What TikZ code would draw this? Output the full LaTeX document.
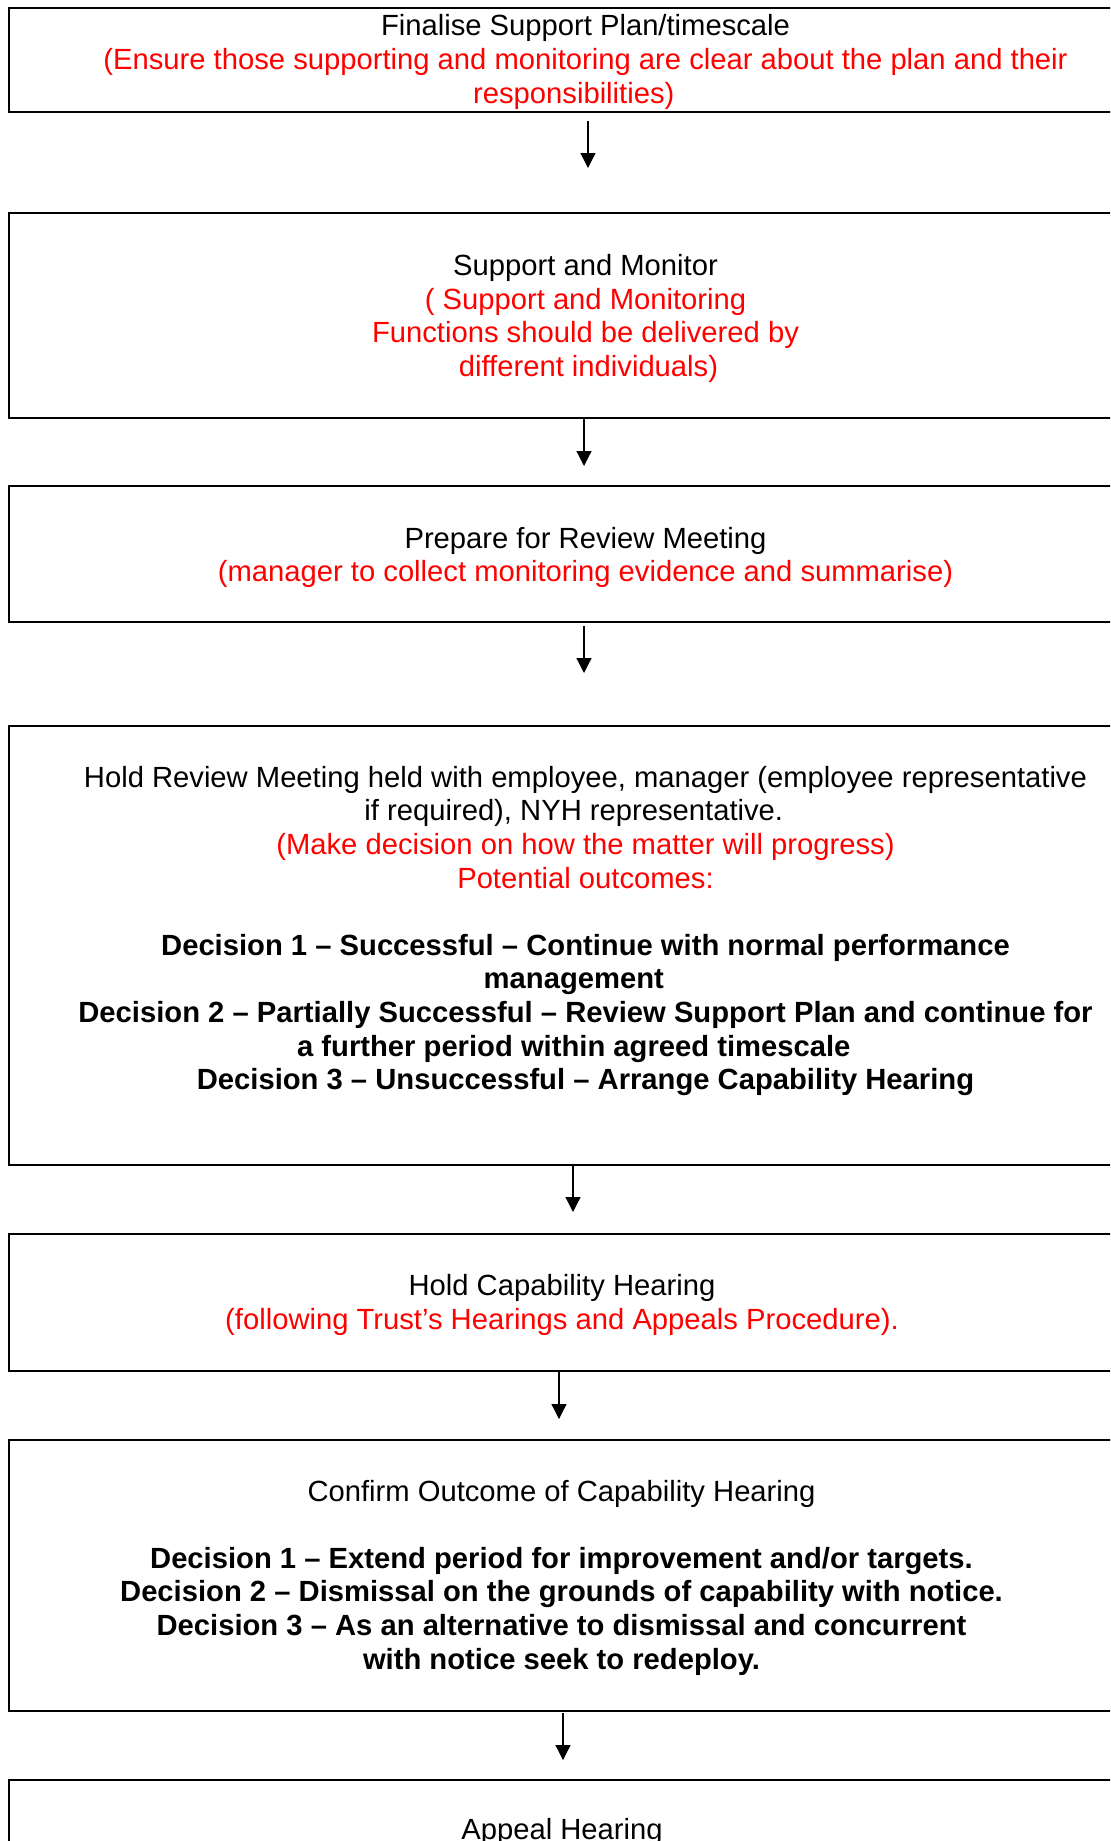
\documentclass[tikz,border=0pt]{standalone}
\usepackage{fontspec}
\setmainfont{Liberation Sans}
\usetikzlibrary{arrows.meta}
\definecolor{txtred}{RGB}{255,0,0}
\newcommand{\rd}[1]{\textcolor{txtred}{#1}}
\newcommand{\lsh}{\hspace*{11.7pt}\mbox{}}
\begin{document}
\begin{tikzpicture}[x=0.5pt,y=-0.5pt,
  box/.style={draw=black, line width=1pt, anchor=north west, inner sep=0pt, minimum width=580pt},
  txt/.style={align=center, inner sep=0pt, font=\fontsize{14.6}{16.8}\selectfont},
  arr/.style={line width=0.6pt, -{Triangle[length=7.5pt,width=7.5pt]}}]
\clip (0,0) rectangle (1110,1841);
% boxes
\node[box, minimum height=51.7pt] (b1) at (7.5,7.3) {};
\node[box, minimum height=102.5pt] (b2) at (7.5,212) {};
\node[box, minimum height=68pt] (b3) at (7.5,485) {};
\node[box, minimum height=219.7pt] (b4) at (7.5,725) {};
\node[box, minimum height=68.6pt] (b5) at (7.5,1232.7) {};
\node[box, minimum height=135.6pt] (b6) at (7.5,1438.7) {};
\node[box, minimum height=60pt] (b7) at (7.5,1779) {};
% texts
\node[txt] (t1) at (585.5,61.9) {Finalise Support Plan/timescale\\
\rd{(Ensure those supporting and monitoring are clear about the plan and their}\\
\rd{responsibilities)}\lsh};
\node[txt] (t2) at (585.5,318.5) {Support and Monitor\\
\rd{( Support and Monitoring}\\
\rd{Functions should be delivered by}\\
\rd{different individuals)}\hspace*{-3pt}};
\node[txt] (t3) at (585.5,557.5) {Prepare for Review Meeting\\
\rd{(manager to collect monitoring evidence and summarise)}};
\node[txt] (t4) at (585.5,931) {Hold Review Meeting held with employee, manager (employee representative\\
if required), NYH representative.\lsh\\
\rd{(Make decision on how the matter will progress)}\\
\rd{Potential outcomes:}\\[16.8pt]
\textbf{Decision 1 – Successful – Continue with normal performance}\\
\textbf{management}\lsh\\
\textbf{Decision 2 – Partially Successful – Review Support Plan and continue for}\\
\textbf{a further period within agreed timescale}\lsh\\
\textbf{Decision 3 – Unsuccessful – Arrange Capability Hearing}};
\node[txt] (t5) at (562,1305) {Hold Capability Hearing\\
\rd{(following Trust’s Hearings and Appeals Procedure).}};
\node[txt] (t6) at (561.5,1577.5) {Confirm Outcome of Capability Hearing\\[16.8pt]
\textbf{Decision 1 – Extend period for improvement and/or targets.}\\
\textbf{Decision 2 – Dismissal on the grounds of capability with notice.}\\
\textbf{Decision 3 – As an alternative to dismissal and concurrent}\\
\textbf{with notice seek to redeploy.}};
\node[txt] (t7) at (562,1831.5) {Appeal Hearing};
% arrows
\coordinate (a1s) at (588,121);  \coordinate (a1e) at (588,168);
\coordinate (a2s) at (584,419);  \coordinate (a2e) at (584,466);
\coordinate (a3s) at (584,626);  \coordinate (a3e) at (584,673);
\coordinate (a4s) at (573,1166); \coordinate (a4e) at (573,1212);
\coordinate (a5s) at (559,1372); \coordinate (a5e) at (559,1419);
\coordinate (a6s) at (563,1713); \coordinate (a6e) at (563,1760);
\draw[arr] (a1s) -- (a1e);
\draw[arr] (a2s) -- (a2e);
\draw[arr] (a3s) -- (a3e);
\draw[arr] (a4s) -- (a4e);
\draw[arr] (a5s) -- (a5e);
\draw[arr] (a6s) -- (a6e);
\end{tikzpicture}
\end{document}
